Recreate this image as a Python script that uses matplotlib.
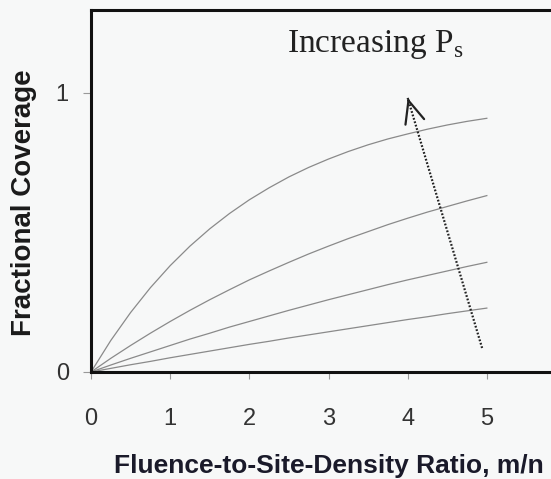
import matplotlib
matplotlib.use("Agg")
import matplotlib.pyplot as plt

# values
ratio = [0, 0.25, 0.5, 0.75, 1, 1.25, 1.5, 1.75, 2, 2.25, 2.5,
         2.75, 3, 3.25, 3.5, 3.75, 4, 4.25, 4.5, 4.75, 5]
coverage_high = [0, 0.113, 0.213, 0.302, 0.381, 0.451, 0.513, 0.568, 0.617, 0.660, 0.699,
                 0.733, 0.763, 0.790, 0.814, 0.835, 0.853, 0.870, 0.885, 0.898, 0.909]
coverage_mid_high = [0, 0.049, 0.095, 0.139, 0.181, 0.221, 0.259, 0.295, 0.330, 0.362, 0.393,
                     0.423, 0.451, 0.478, 0.503, 0.528, 0.551, 0.573, 0.593, 0.613, 0.632]
coverage_mid_low = [0, 0.025, 0.049, 0.072, 0.095, 0.118, 0.139, 0.161, 0.181, 0.201, 0.221,
                    0.240, 0.259, 0.277, 0.295, 0.313, 0.330, 0.346, 0.362, 0.378, 0.393]
coverage_low = [0, 0.013, 0.026, 0.038, 0.051, 0.063, 0.075, 0.087, 0.099, 0.110, 0.122,
                0.133, 0.144, 0.155, 0.166, 0.177, 0.188, 0.198, 0.209, 0.219, 0.229]
curves = [coverage_high, coverage_mid_high, coverage_mid_low, coverage_low]

arrow_start = (4.94, 0.086)
arrow_end = (4.0, 0.982)

x_ticks = [0, 1, 2, 3, 4, 5]
y_ticks = [0, 1]

plt.rcParams['mathtext.fontset'] = 'custom'
plt.rcParams['mathtext.rm'] = 'Liberation Serif'

bg = '#f7f8f8'
fig = plt.figure(figsize=(5.51, 4.79), dpi=100, facecolor=bg)
# right spine sits just past the picture edge, as in the original
ax = fig.add_axes([91 / 551, 107 / 479, 475 / 551, 362 / 479], facecolor=bg)

for c in curves:
    ax.plot(ratio, c, color='#8a8a8a', lw=0.9)

# dotted shaft plus an open arrow head
ax.plot([arrow_start[0], arrow_end[0]], [arrow_start[1], arrow_end[1]],
        color='#222222', lw=1.6, linestyle=(0, (0.8, 0.8)))
dx = arrow_end[0] - arrow_start[0]
dy = arrow_end[1] - arrow_start[1]
ax.annotate('', xy=arrow_end,
            xytext=(arrow_end[0] - 0.01 * dx, arrow_end[1] - 0.01 * dy),
            arrowprops=dict(arrowstyle='->,head_length=0.8,head_width=0.35',
                            color='#222222', lw=1.6, mutation_scale=20,
                            shrinkA=0, shrinkB=0))

ax.text(2.47, 1.147, r'Increasing P$_{\rm s}$', family='Liberation Serif',
        fontsize=24, color='#222222', va='baseline', ha='left')

ax.set_xlim(0, 6)
ax.set_ylim(0, 1.297)
ax.set_xticks(x_ticks)
ax.set_yticks(y_ticks)
ax.set_xticklabels([str(t) for t in x_ticks], family='Liberation Sans')
ax.set_yticklabels([str(t) for t in y_ticks], family='Liberation Sans')
ax.tick_params(axis='x', direction='out', length=5, width=0.8, color='#999999',
               pad=21, labelsize=17, labelcolor='#333333')
ax.tick_params(axis='y', direction='out', length=6, width=0.8, color='#999999',
               pad=10, labelsize=17, labelcolor='#333333')

for side in ['left', 'bottom', 'top', 'right']:
    ax.spines[side].set_linewidth(2.2)
    ax.spines[side].set_color('#111111')

ax.set_xlabel('Fluence-to-Site-Density Ratio, m/n', family='Liberation Sans',
              fontsize=19, fontweight='bold', color='#1a1a2a')
ax.set_ylabel('Fractional Coverage', family='Liberation Sans',
              fontsize=20, fontweight='bold', color='#1a1a1a')
ax.xaxis.set_label_coords(0.5, -0.279)
ax.xaxis.label.set_va('baseline')
ax.yaxis.set_label_coords(-0.141, 0.467)
ax.yaxis.label.set_va('center')

fig.savefig('out.png', dpi=100, facecolor=bg)
